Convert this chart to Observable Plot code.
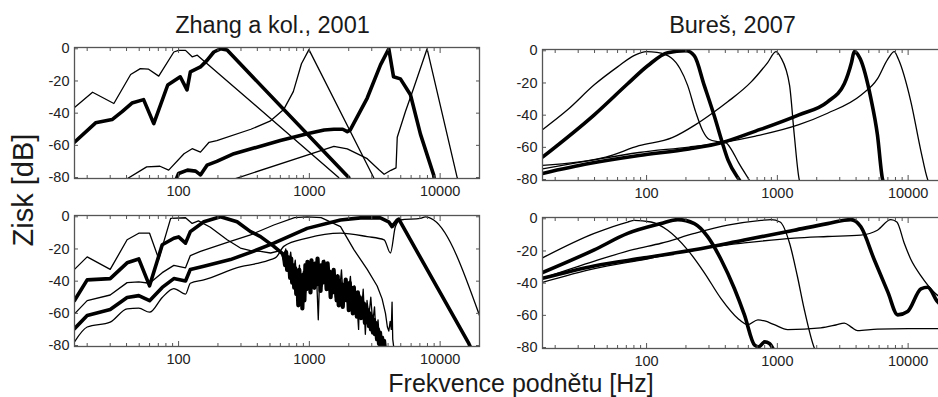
<!DOCTYPE html>
<html>
<head>
<meta charset="utf-8">
<script src="https://cdn.jsdelivr.net/npm/d3@7"></script>
<script src="https://cdn.jsdelivr.net/npm/@observablehq/plot@0.6"></script>
<style>
  html, body { margin: 0; padding: 0; background: #fff; }
  #fig { position: relative; width: 938px; height: 397px; overflow: hidden; background: #fff; }
</style>
</head>
<body>
<div id="fig"></div>
<script>
// ---------- tick values ----------
const freqMajor = [100, 1000, 10000];
const freqMinor = [20, 30, 40, 50, 60, 70, 80, 90, 200, 300, 400, 500, 600, 700, 800, 900,
                   2000, 3000, 4000, 5000, 6000, 7000, 8000, 9000];
const gainTicks = [0, -20, -40, -60, -80];

// ---------- titles / labels ----------
const titleLeft = "Zhang a kol., 2001";
const titleRight = "Bureš, 2007";
const yLabel = "Zisk [dB]";
const xLabel = "Frekvence podnětu [Hz]";

// ---------- Zhang 2001, upper panel: [frequency Hz, gain dB] ----------
const zhangTopThin100 = [[16,-36.5],[22,-27],[32,-34],[43,-16],[51,-12.3],[59,-12.7],[70.5,-17],[92,-2],[100,-1],[113,-1],[127,-5],[139,-4],[500,-43],[1675,-80],[1750,-83]];
const zhangTopThick200 = [[16,-58],[23.2,-46],[31,-44],[37,-39],[44,-33.7],[54,-31.6],[64.6,-46.5],[82.6,-22.5],[103,-17.4],[116,-25.5],[123,-14.4],[147,-11.3],[165,-7.2],[186,-2],[209,0],[235,-0.8],[2000,-80],[2050,-83]];
const zhangTopThin1000 = [[40,-81],[57,-73.4],[72,-73],[84,-75.4],[110,-65.2],[127,-62.1],[147,-64.2],[171,-58.1],[196,-57],[357,-50],[500,-45],[636,-37.8],[754,-26.6],[870,-9.3],[993,-0.5],[3100,-80],[3200,-83]];
const zhangTopThick4000 = [[96,-81],[100,-77.5],[117,-75.4],[135,-76],[147,-78.4],[165,-72.3],[196,-70],[265,-65.2],[600,-57],[1000,-52.5],[1300,-50.5],[1540,-50],[1800,-50],[1950,-51.5],[2050,-50.5],[2770,-30.6],[3500,-10],[4050,0],[4400,-17.4],[4970,-18.7],[5930,-28.6],[7070,-53],[8930,-78.5],[9100,-83]];
const zhangTopThin8000 = [[265,-81],[1540,-60.6],[1950,-62.2],[2770,-68.3],[3390,-75],[3730,-78],[4200,-75.5],[4600,-74],[4700,-55],[5430,-39],[6270,-24.5],[7950,0],[13500,-80],[14000,-83]];

// ---------- Zhang 2001, lower panel ----------
const zhangBotThin100 = [[16,-32.7],[20,-24.9],[30,-32.7],[40.4,-14.3],[49.6,-10.2],[60,-10.2],[70.5,-26.2],[87,-1],[113,-0.6],[127,-4.1],[142,-2.5],[175,-6.5],[235,-14.3],[297,-19.4],[355,-21],[423,-21.5],[505,-22.5],[600,-21]];
const zhangBotThinNoise = [[640,-28],[660,-20],[690,-32],[720,-22],[750,-36],[780,-27],[810,-46],[840,-30],[870,-52],[900,-34],[935,-47],[970,-31],[1010,-40],[1050,-30],[1090,-45],[1130,-33],[1170,-64],[1200,-35],[1250,-43],[1300,-27],[1350,-40],[1400,-31],[1460,-48],[1520,-34],[1580,-50],[1640,-36],[1700,-47],[1760,-33],[1830,-55],[1900,-40],[1980,-48],[2060,-37],[2140,-58],[2220,-43],[2300,-52],[2380,-70],[2420,-48],[2500,-60],[2580,-45],[2680,-73],[2760,-52],[2850,-62],[2950,-50],[3050,-66],[3150,-56],[3250,-77],[3350,-64],[3450,-80],[3550,-83]];
const zhangBotThick200 = [[16,-52],[20,-39.2],[30,-38.4],[40.4,-28.6],[49.6,-26.2],[60,-42.9],[75,-17.4],[92,-13.3],[100,-12.5],[113,-16.4],[123,-9.2],[156,-3.1],[209,0],[280,-3.1],[355,-9.2],[423,-12.3],[535,-18.4],[637,-23.5]];
const zhangBotThickNoise = [[652,-30],[664,-22],[676,-33],[688,-25],[700,-28],[713,-38],[726,-26],[739,-41],[752,-30],[766,-44],[780,-32],[794,-48],[808,-35],[823,-55],[838,-33],[853,-50],[868,-38],[884,-57],[900,-36],[916,-52],[933,-30],[950,-45],[967,-28],[984,-43],[1002,-34],[1020,-47],[1038,-27],[1057,-40],[1076,-31],[1095,-44],[1115,-29],[1135,-42],[1155,-26],[1176,-39],[1197,-33],[1218,-46],[1240,-30],[1262,-41],[1285,-28],[1308,-38],[1331,-32],[1355,-45],[1379,-29],[1404,-40],[1429,-34],[1455,-50],[1481,-36],[1507,-47],[1534,-33],[1561,-44],[1589,-38],[1618,-52],[1647,-37],[1676,-55],[1706,-40],[1737,-53],[1768,-42],[1800,-56],[1832,-44],[1865,-50],[1898,-39],[1932,-52],[1967,-43],[2002,-58],[2038,-41],[2075,-54],[2112,-46],[2150,-60],[2188,-44],[2227,-56],[2267,-48],[2308,-62],[2349,-47],[2391,-58],[2434,-50],[2478,-63],[2522,-52],[2567,-61],[2613,-54],[2660,-66],[2708,-55],[2756,-64],[2805,-58],[2855,-68],[2906,-60],[2958,-70],[3011,-62],[3065,-72],[3120,-64],[3176,-73],[3233,-66],[3291,-76],[3350,-70],[3410,-79],[3471,-72],[3533,-80],[3596,-75],[3660,-81],[3725,-77],[3790,-83]];
const zhangBotThin1000 = [[16,-60.3],[20,-52.1],[30,-48.6],[40.4,-40.9],[49.6,-40.5],[60,-41.3],[75,-34.7],[92,-30.2],[113,-31.7],[123,-24.1],[147,-21.5],[249,-15.3],[355,-11.2],[535,-5.1],[770,-0.5],[962,0],[1230,-0.5],[1730,-6.1],[2190,-20.4],[2770,-32.7],[3300,-43],[3600,-51],[3820,-60],[3950,-68.5],[4050,-71],[4150,-65],[4230,-70],[4290,-53],[4340,-76],[4450,-83]];
const zhangBotThick4000 = [[16,-69.5],[20,-61.3],[30,-57.6],[40.4,-50.1],[49.6,-49],[60,-52.1],[75,-43.9],[92,-38.4],[113,-39.9],[123,-32.7],[156,-30.7],[249,-26.6],[355,-22.1],[535,-16.4],[962,-7.2],[1730,-2],[2460,-0.7],[3490,-0.7],[4040,-3.1],[4290,-6.1],[4690,-2],[4830,-1.5],[16560,-78.7],[17500,-83]];
const zhangBotThin8000 = [[16,-77.7],[20,-68.5],[30,-65.4],[40.4,-57.2],[49.6,-56.8],[60,-59.3],[75,-50.1],[92,-44.6],[113,-48],[123,-41.3],[156,-39.2],[300,-31],[400,-29],[505,-26.6],[560,-25],[637,-18.4],[962,-13.3],[1730,-10.2],[2770,-12.3],[3730,-14.3],[4170,-22.5],[4550,-6.1],[4970,-2],[7070,-1],[7710,0],[8930,-2],[20000,-61.3]];

// ---------- Bureš 2007, upper panel ----------
const buresTopThin100 = [[16,-49],[25,-36.5],[40,-21],[60,-10],[80,-3],[100,-0.5],[120,-1],[154,-4.3],[180,-11],[206,-21.5],[237,-37.8],[270,-50],[300,-55],[350,-56.5],[402,-57],[450,-62],[509,-70],[607,-80],[640,-83]];
const buresTopThick200 = [[16,-66.1],[39.8,-39.8],[71.7,-20.5],[102,-9.3],[145,-1.2],[200,0],[232,-3.2],[276,-21.5],[331,-41],[379,-57],[420,-68],[509,-80],[540,-83]];
const buresTopThin1000 = [[16,-71.2],[48.7,-66.1],[87.5,-59],[157,-54],[237,-45.9],[318,-38.8],[417,-31.7],[628,-19.5],[843,-7.3],[975,-0.5],[1060,-4],[1240,-21.5],[1346,-52],[1470,-80],[1520,-83]];
const buresTopThick4000 = [[16,-76.2],[36.3,-70.1],[87.5,-65.1],[211,-61],[379,-57],[682,-49.9],[1462,-39.8],[2420,-31.7],[3250,-20.5],[3690,-7.3],[3870,-0.5],[4300,-5],[5190,-29.6],[5820,-52],[6380,-80],[6600,-83]];
const buresTopThin8000 = [[16,-73.4],[36.3,-68.3],[87.5,-63.2],[211,-59.8],[379,-57],[682,-53],[1462,-45.9],[2420,-38.8],[4350,-27.6],[5820,-17.5],[6970,-5.3],[7830,-0.5],[8400,-5],[10500,-31.7],[12500,-62],[14100,-80],[14600,-83]];

// ---------- Bureš 2007, lower panel ----------
const buresBotThin90 = [[16,-24.3],[39.8,-9.1],[71.7,-2],[80.6,-1],[108,-2],[145,-7.1],[206,-19.3],[276,-33.4],[371,-49.6],[497,-61.8],[593,-65.8],[710,-62.8],[800,-63.5],[947,-65.8],[1200,-68.9],[2150,-67.8],[2800,-66],[3250,-64.8],[3700,-67.5],[4100,-69.5],[5820,-68.5],[10000,-68.3],[20000,-68.3]];
const buresBotThick170 = [[16,-33.4],[39.8,-19.3],[71.7,-9.1],[129,-3],[173,-0.5],[232,-3],[293,-11.1],[371,-25.3],[470,-43.5],[560,-59.7],[670,-78.5],[720,-79.5],[800,-76.5],[870,-77.5],[930,-81]];
const buresBotThin900 = [[16,-37],[40,-26.3],[80,-19],[129,-15.2],[232,-9.1],[417,-4],[750,-1],[894,-0.5],[1050,-2],[1240,-15.2],[1420,-35.4],[1600,-55.7],[1910,-80],[1980,-83]];
const buresBotThick4000 = [[16,-37],[39.8,-29.3],[96,-24.3],[232,-19.3],[558,-13.2],[1346,-7.1],[2420,-3],[3650,-0.5],[4350,-5],[5500,-25.3],[7000,-45.6],[8320,-59.7],[9910,-57.6],[12530,-43.5],[14100,-42.5],[16800,-51.6],[20000,-56]];
const buresBotThin7400 = [[16,-39.5],[40,-31],[100,-25],[232,-19],[558,-15],[1346,-12],[2420,-11],[4350,-10.1],[5820,-7.1],[7380,-0.5],[8200,-2],[9340,-15.2],[10500,-25.3],[12530,-35.4],[15800,-45.6],[20000,-52]];

// ---------- layout ----------
const FONT = '"Liberation Sans", Arial, Helvetica, sans-serif';
const W = 405, H = 131;
const ML = 50, MR = 2, MT = 4, MB = 26;
const THIN = 1.3, THICK = 3.6, NOISE = 4.2;

function makePanel(curves, left, top) {
  const lines = curves.map(c => Plot.line(c.data, {
    x: d => d[0], y: d => d[1],
    stroke: "#000", strokeWidth: c.w, curve: c.curve || "linear",
    strokeLinejoin: "round", clip: true
  }));
  const chart = Plot.plot({
    width: W + ML + MR, height: H + MT + MB,
    marginLeft: ML, marginRight: MR, marginTop: MT, marginBottom: MB,
    style: {background: "transparent", fontFamily: FONT, fontSize: "14.5px", color: "#222", overflow: "visible"},
    x: {type: "log", domain: [16, 20000]},
    y: {domain: [-80.6, 0.8]},
    marks: [
      ...lines,
      Plot.frame({stroke: "#555", strokeWidth: 1.3}),
      Plot.axisX(freqMinor, {anchor: "bottom", tickSize: -3, tickFormat: () => "", stroke: "#555", label: null}),
      Plot.axisX(freqMajor, {anchor: "bottom", tickSize: -5, tickFormat: () => "", stroke: "#555", label: null}),
      Plot.axisX(freqMinor, {anchor: "top", tickSize: -3, tickFormat: () => "", stroke: "#555", label: null}),
      Plot.axisX(freqMajor, {anchor: "top", tickSize: -5, tickFormat: () => "", stroke: "#555", label: null}),
      Plot.axisX(freqMajor, {anchor: "bottom", tickSize: 0, tickPadding: 7, tickFormat: d => String(d), fill: "#222", label: null}),
      Plot.axisY(gainTicks, {anchor: "left", tickSize: -4, tickFormat: () => "", stroke: "#555", label: null}),
      Plot.axisY(gainTicks, {anchor: "right", tickSize: -4, tickFormat: () => "", stroke: "#555", label: null}),
      Plot.axisY(gainTicks, {anchor: "left", tickSize: 0, tickPadding: 5, tickFormat: d => String(d), fill: "#222", label: null})
    ]
  });
  chart.style.position = "absolute";
  chart.style.left = (left - ML) + "px";
  chart.style.top = (top - MT) + "px";
  return chart;
}

const fig = document.getElementById("fig");

fig.appendChild(makePanel([
  {data: zhangTopThin100, w: THIN},
  {data: zhangTopThin1000, w: THIN},
  {data: zhangTopThin8000, w: THIN},
  {data: zhangTopThick200, w: THICK},
  {data: zhangTopThick4000, w: THICK}
], 74, 46.5));

fig.appendChild(makePanel([
  {data: zhangBotThin1000, w: THIN},
  {data: zhangBotThin8000, w: THIN, curve: "monotone-x"},
  {data: zhangBotThick4000, w: THICK},
  {data: zhangBotThick200, w: THICK},
  {data: [zhangBotThick200[zhangBotThick200.length - 1]].concat(zhangBotThickNoise), w: NOISE},
  {data: zhangBotThin100.concat(zhangBotThinNoise), w: THIN}
], 74, 215));

fig.appendChild(makePanel([
  {data: buresTopThin100, w: THIN, curve: "monotone-x"},
  {data: buresTopThin1000, w: THIN, curve: "monotone-x"},
  {data: buresTopThin8000, w: THIN, curve: "monotone-x"},
  {data: buresTopThick200, w: THICK, curve: "monotone-x"},
  {data: buresTopThick4000, w: THICK, curve: "monotone-x"}
], 541.5, 48.5));

fig.appendChild(makePanel([
  {data: buresBotThin90, w: THIN, curve: "monotone-x"},
  {data: buresBotThin900, w: THIN, curve: "monotone-x"},
  {data: buresBotThin7400, w: THIN, curve: "monotone-x"},
  {data: buresBotThick170, w: THICK, curve: "monotone-x"},
  {data: buresBotThick4000, w: THICK, curve: "monotone-x"}
], 541.5, 216.5));

// text overlay
const svg = d3.select(fig).append("svg")
  .attr("width", 938).attr("height", 397)
  .style("position", "absolute").style("left", "0px").style("top", "0px")
  .style("pointer-events", "none")
  .attr("font-family", FONT).attr("fill", "#1a1a1a");

svg.append("text").attr("x", 272.5).attr("y", 33.3).attr("text-anchor", "middle")
  .attr("font-size", 23.5).text(titleLeft);
svg.append("text").attr("x", 732.5).attr("y", 33.3).attr("text-anchor", "middle")
  .attr("font-size", 23.5).text(titleRight);
svg.append("text").attr("transform", "translate(33,190) rotate(-90)").attr("text-anchor", "middle")
  .attr("font-size", 29).text(yLabel);
svg.append("text").attr("x", 521).attr("y", 391.5).attr("text-anchor", "middle")
  .attr("font-size", 25).text(xLabel);
</script>
</body>
</html>
